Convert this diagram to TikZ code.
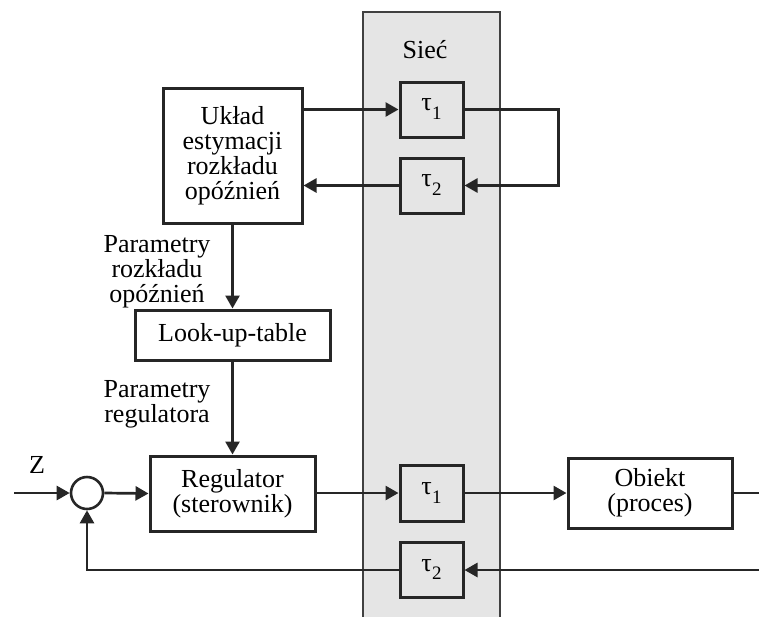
\documentclass[tikz,border=0pt]{standalone}
\usepackage{fontspec}
\setmainfont{Liberation Serif}
\usetikzlibrary{arrows.meta}
\newcommand{\tauidx}[1]{τ\kern0.5pt\raisebox{-0.75ex}{\fontsize{19}{19}\selectfont #1}}
\begin{document}
\begin{tikzpicture}[x=1pt,y=-1pt,
  every node/.style={font=\fontsize{26}{25}\selectfont},
  blk/.style={draw=black!85, line width=3pt, inner sep=0pt, align=center},
  conn/.style={line width=2.7pt, draw=black!85},
  arr/.style={conn, -{Triangle[length=13pt,width=14pt]}},
  lbl/.style={align=center, inner sep=0pt}]
\useasboundingbox (0,0) rectangle (759,616);
% network band
\filldraw[fill=black!10, draw=black!75, line width=1.5pt] (363,12) rectangle (500,625);
\node[lbl] (siec) at (425,50) {Sieć};
% top part
\node[blk, minimum width=139pt, minimum height=135pt] (uklad) at (232.5,155.5) {Układ\\estymacji\\rozkładu\\opóźnień};
\node[blk, minimum width=63pt, minimum height=55pt] (t1a) at (431.5,109.5) {\tauidx{1}};
\node[blk, minimum width=63pt, minimum height=55pt] (t2a) at (431.5,185.5) {\tauidx{2}};
\node[blk, minimum width=195pt, minimum height=50pt] (lut) at (232.5,335) {Look-up-table};
\node[lbl] (par1) at (157,272) {Parametry\\rozkładu\\opóźnień};
\node[lbl] (par2) at (157,404) {Parametry\\regulatora};
% bottom part
\node[draw=black!85, line width=2.6pt, circle, minimum size=32pt, inner sep=0pt] (sum) at (87,493) {};
\node[lbl] (z) at (37,465) {Z};
\node[blk, minimum width=165pt, minimum height=75pt] (reg) at (232.5,493.5) {Regulator\\(sterownik)};
\node[blk, minimum width=63pt, minimum height=56pt] (t1b) at (431.5,493) {\tauidx{1}};
\node[blk, minimum width=63pt, minimum height=55pt] (t2b) at (431.5,569.5) {\tauidx{2}};
\node[blk, minimum width=164pt, minimum height=70pt] (obj) at (650,493) {Obiekt\\(proces)};
\coordinate (in) at (14,493);
\coordinate (out) at (759,493);
\coordinate (fbin) at (759,570);
% connectors top
\draw[arr] (uklad.east |- t1a) -- (t1a.west);
\draw[arr] (t1a.east) -- ++(94,0) |- (t2a.east);
\draw[arr] (t2a.west) -- (uklad.east |- t2a);
\draw[arr] (uklad.south) -- (lut.north);
\draw[arr] (lut.south) -- (reg.north);
% connectors bottom
\draw[arr] (in) -- (sum.west);
\draw[arr] (sum.east) -- (reg.west);
\draw[arr] (reg.east |- t1b) -- (t1b.west);
\draw[arr] (t1b.east) -- (obj.west);
\draw[conn] (obj.east) -- (out);
\draw[arr] (fbin) -- (t2b.east |- fbin);
\draw[arr] (t2b.west |- fbin) -| (sum.south);
\end{tikzpicture}
\end{document}
